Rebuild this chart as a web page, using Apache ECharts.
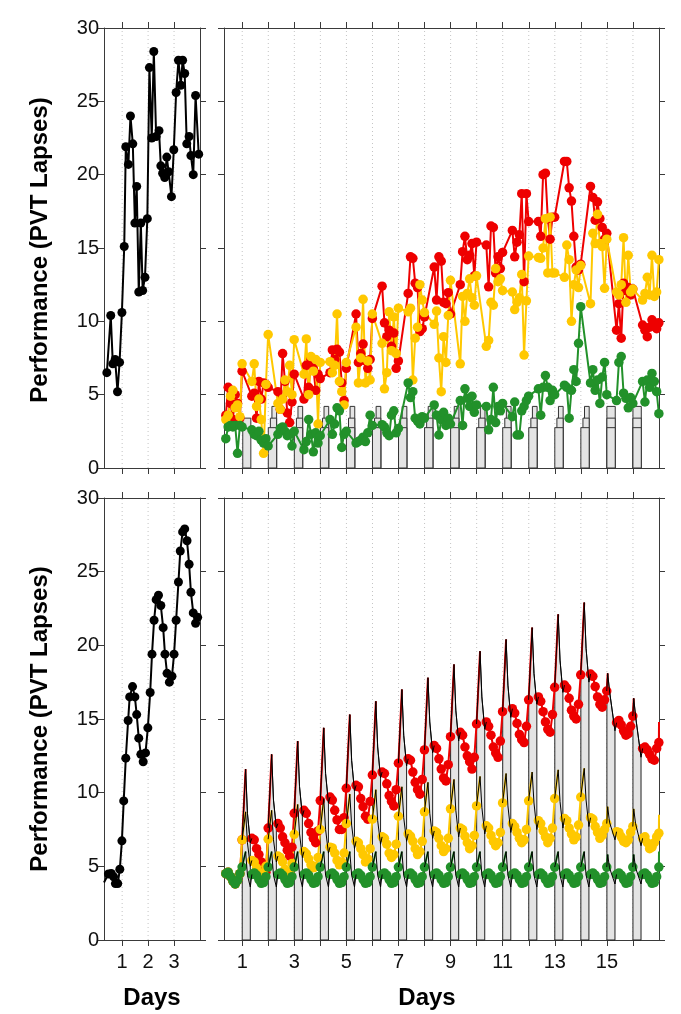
<!DOCTYPE html>
<html><head><meta charset="utf-8">
<script src="https://cdn.jsdelivr.net/npm/echarts@6/dist/echarts.min.js"></script>
<style>html,body{margin:0;padding:0;background:#fff}#c{width:681px;height:1014px}</style>
</head><body><div id="c"></div>
<script>
// ---------- DATA ----------
const yTicks = [0, 5, 10, 15, 20, 25, 30];
const leftDayTicks = [1, 2, 3];
const rightDayTicks = [1,2,3,4,5,6,7,8,9,10,11,12,13,14,15,16];
const rightDayLabels = [1,3,5,7,9,11,13,15];

// top-left (black)
const tlDays = [0.41,0.56,0.64,0.73,0.82,0.90,0.99,1.08,1.14,1.24,1.32,1.41,1.49,1.56,1.64,1.72,1.79,1.88,1.97,2.05,2.14,2.22,2.31,2.42,2.49,2.56,2.64,2.72,2.79,2.90,2.99,3.08,3.17,3.26,3.33,3.41,3.49,3.58,3.65,3.74,3.83,3.95];
const tlLapses = [6.5,10.4,7.1,7.4,5.2,7.2,10.6,15.1,21.9,20.7,24.0,22.1,16.7,19.2,12.0,16.7,12.1,13.0,17.0,27.3,22.5,28.4,22.6,23.0,20.6,20.1,19.8,21.2,20.2,18.5,21.7,25.6,27.8,26.1,27.8,26.9,22.1,22.6,21.3,20.0,25.4,21.4];

// bottom-left (black)
const blLead = [0.3, 3.9];
const blDays = [0.47,0.58,0.67,0.74,0.83,0.91,0.99,1.06,1.14,1.23,1.29,1.40,1.49,1.56,1.64,1.72,1.81,1.90,1.99,2.08,2.15,2.23,2.31,2.40,2.49,2.58,2.65,2.73,2.82,2.92,3.00,3.08,3.17,3.24,3.33,3.41,3.50,3.58,3.65,3.74,3.83,3.91];
const blLapses = [4.48,4.52,4.29,3.83,3.83,4.8,6.73,9.44,12.34,14.9,16.5,17.2,16.5,15.3,13.7,12.6,12.1,12.7,14.4,16.8,19.4,21.7,23.1,23.4,22.7,21.2,19.4,18.1,17.5,17.9,19.4,21.7,24.3,26.4,27.7,27.9,27.1,25.5,23.6,22.2,21.5,21.9];

// time of day (fraction) of the 8 measurements in each wake period
const wakeOffsets = [0.37,0.46,0.55,0.64,0.73,0.82,0.91,0.995];

// top-right measured values, one row per wake period (day 0..16)
const trRed = [
 [3.6,5.5,4.4,3.3,5.0,4.4,3.4,6.6],
 [4.9,5.1,3.4,5.9,4.7,5.8,5.7,5.5],
 [5.2,4.0,7.8,5.9,3.75,3.1,4.5,6.4],
 [4.7,7.0,5.5,7.4,6.8,5.3,6.4,6.1],
 [6.5,8.05,7.4,8.1,7.9,5.8,4.6,6.8],
 [10.5,7.2,7.8,8.45,7.3,6.8,7.4,10.2],
 [12.4,9.9,8.95,9.4,8.3,9.2,6.8,7.3],
 [11.9,14.4,14.3,12.6,12.3,9.3,9.5,10.3],
 [13.7,11.45,14.4,14.1,11.3,11.2,11.95,10.5],
 [12.5,14.75,15.8,14.2,14.5,15.3,13.1,15.4],
 [15.2,12.35,16.5,16.4,13.3,14.4,13.6,14.7],
 [16.2,14.4,15.4,15.9,18.7,12.7,18.7,16.8],
 [16.8,15.8,20.0,20.1,17.0,15.6,17.1,17.1],
 [20.9,20.9,19.1,18.2,15.8,13.7,13.5,13.9],
 [19.2,18.45,16.9,18.15,17.0,16.4,15.6,16.0],
 [9.4,11.2,8.85,12.6,12.1,12.3,11.8,12.2],
 [9.75,9.4,8.95,9.6,10.1,9.9,9.5,9.9]
];
const trYellow = [
 [3.3,3.6,4.9,5.3,4.1,4.3,3.5,7.1],
 [5.9,7.1,4.2,4.7,3.3,1.0,5.7,9.1],
 [4.4,4.0,4.7,6.0,5.2,7.0,5.0,8.75],
 [6.4,8.8,5.0,7.6,6.6,7.4,3.0,7.2],
 [7.25,6.5,7.0,10.5,5.9,5.2,4.3,7.2],
 [9.6,5.8,7.5,11.5,5.8,7.3,6.0,10.5],
 [8.5,5.4,6.5,10.65,8.0,10.3,7.8,10.9],
 [10.65,10.9,6.0,8.85,9.6,12.5,11.45,10.6],
 [9.8,10.7,7.5,5.2,8.95,7.2,10.4,12.8],
 [7.1,11.7,10.0,11.9,12.9,11.6,11.1,13.1],
 [8.3,8.7,11.3,11.1,13.6,12.7,12.9,12.1],
 [12.0,10.8,11.3,11.6,13.2,7.7,11.4,14.45],
 [14.35,14.3,15.0,17.0,13.3,17.1,13.3,13.3],
 [13.0,15.2,14.2,10.0,12.5,13.5,12.3,13.8],
 [11.2,16.0,15.3,17.3,15.3,15.1,12.25,15.6],
 [12.0,11.8,12.5,15.7,11.3,14.5,12.0,12.2],
 [11.45,11.9,13.0,11.8,14.5,11.7,12.0,14.2]
];
const trGreen = [
 [2.0,2.8,2.9,2.8,2.9,1.0,2.9,2.8],
 [2.6,2.3,2.2,2.5,1.9,1.7,2.0,1.5],
 [2.3,2.7,2.8,2.5,2.2,2.3,1.5,2.5],
 [1.25,1.8,3.3,2.3,1.1,2.4,1.7,2.2],
 [3.3,2.3,3.0,4.1,3.9,1.4,2.3,2.5],
 [1.7,1.8,1.9,2.1,1.8,2.4,3.6,2.9],
 [2.95,2.8,2.4,2.2,3.6,3.9,2.4,2.7],
 [5.8,4.8,5.2,3.4,3.2,3.0,3.5,3.4],
 [4.3,3.6,2.25,3.3,3.8,2.9,3.4,3.0],
 [4.6,2.9,5.4,4.75,4.2,4.9,3.8,4.3],
 [4.2,2.6,3.3,5.5,3.1,4.2,3.9,4.4],
 [3.5,4.5,2.25,2.25,3.9,4.2,4.6,4.9],
 [5.4,3.6,5.5,6.3,5.5,4.6,5.3,5.0],
 [5.65,5.5,3.4,5.3,6.7,5.9,8.5,11.0],
 [5.8,6.7,5.3,6.0,4.4,6.2,7.2,5.0],
 [4.6,7.2,7.6,5.1,4.75,4.1,4.8,4.4],
 [5.9,4.5,6.0,5.5,6.45,5.9,5.2,3.7]
];
// top-right grey step bars: levels (tallest first) and start offsets per day
const trBandLevels = [4.2, 3.4, 2.75];
const trBandStarts = [
 [null,0.02,null],
 [0.14,0.08,0],[0.14,0.08,0],[0.14,0.08,0],[0.14,0.08,0],[0.14,0.08,0],[0.14,0.08,0],
 [0.14,0.08,0],[0.14,0.08,0],[0.14,0.08,0],[0.14,0.08,0],[0.14,0.08,0],[0.14,0.08,0],[0.14,0.08,0],
 [0,0,0],[0,0,0]
];
const trBandEnd = 0.32;

// bottom-right model-predicted values, one row per wake period (day 0..16)
const brRed = [
 [4.5,4.6,4.3,4.0,3.8,4.05,4.5,6.8],
 [6.9,6.8,6.2,5.8,5.3,4.9,4.6,7.6],
 [7.9,7.6,7.0,6.6,6.1,5.7,6.3,8.6],
 [8.8,8.6,7.9,7.3,6.9,6.6,7.4,9.46],
 [9.7,9.5,8.8,8.15,7.5,7.5,8.3,10.3],
 [10.5,10.4,9.6,9.05,8.4,8.2,9.4,11.2],
 [11.4,11.3,10.6,9.8,9.4,9.1,10.2,12.0],
 [12.3,12.2,11.4,10.7,10.2,9.9,10.9,12.9],
 [13.2,13.0,12.3,11.6,11.0,10.8,11.9,13.8],
 [14.1,13.9,13.1,12.5,12.1,11.6,12.4,14.66],
 [14.8,14.5,13.9,13.1,12.7,12.4,13.5,15.5],
 [15.7,15.4,14.7,13.95,13.6,13.4,14.5,16.3],
 [16.5,16.2,15.5,14.8,14.3,14.1,15.3,17.15],
 [17.3,17.1,16.4,15.6,15.2,15.0,16.0,18.0],
 [18.05,17.9,17.2,16.5,16.0,15.8,16.3,16.9],
 [14.75,14.9,14.6,14.2,13.9,14.0,14.5,15.2],
 [13.0,13.1,12.9,12.6,12.3,12.2,13.0,13.4]
];
const brYellow = [
 [4.5,4.6,4.3,4.0,3.8,4.05,4.5,6.8],
 [5.4,5.3,4.9,4.6,4.4,4.5,5.0,6.84],
 [5.7,5.6,5.3,4.8,4.5,4.6,5.2,7.17],
 [6.0,5.85,5.5,5.1,4.9,5.0,5.6,7.5],
 [6.3,6.25,5.9,5.4,5.1,5.3,5.9,7.9],
 [6.7,6.6,6.2,5.8,5.3,5.5,6.2,8.2],
 [7.0,6.9,6.5,5.9,5.6,5.8,6.5,8.4],
 [7.2,7.05,6.7,6.2,5.8,6.0,6.7,8.7],
 [7.4,7.3,6.9,6.4,6.0,6.2,6.9,8.9],
 [7.6,7.5,7.05,6.6,6.2,6.4,7.1,9.1],
 [7.75,7.6,7.1,6.7,6.4,6.6,7.3,9.3],
 [7.9,7.7,7.3,6.9,6.6,6.8,7.5,9.45],
 [8.1,7.9,7.4,7.0,6.6,6.9,7.6,9.6],
 [8.25,8.1,7.6,7.2,6.8,7.0,7.8,9.7],
 [8.3,8.2,7.7,7.3,6.9,7.1,7.5,7.9],
 [7.35,7.3,7.0,6.7,6.6,6.8,7.3,7.7],
 [6.9,7.0,6.6,6.2,6.3,6.6,7.0,7.25]
];
const brGreen = [
 [4.5,4.6,4.3,4.0,3.8,4.05,4.5,4.95],
 [4.45,4.55,4.4,4.1,3.85,3.9,4.3,4.95],
 [4.45,4.55,4.4,4.1,3.85,3.9,4.3,4.95],
 [4.45,4.55,4.4,4.1,3.85,3.9,4.3,4.95],
 [4.45,4.55,4.4,4.1,3.85,3.9,4.3,4.95],
 [4.45,4.55,4.4,4.1,3.85,3.9,4.3,4.95],
 [4.45,4.55,4.4,4.1,3.85,3.9,4.3,4.95],
 [4.45,4.55,4.4,4.1,3.85,3.9,4.3,4.95],
 [4.45,4.55,4.4,4.1,3.85,3.9,4.3,4.95],
 [4.45,4.55,4.4,4.1,3.85,3.9,4.3,4.95],
 [4.45,4.55,4.4,4.1,3.85,3.9,4.3,4.95],
 [4.45,4.55,4.4,4.1,3.85,3.9,4.3,4.95],
 [4.45,4.55,4.4,4.1,3.85,3.9,4.3,4.95],
 [4.45,4.55,4.4,4.1,3.85,3.9,4.3,4.95],
 [4.45,4.55,4.4,4.1,3.85,3.9,4.3,4.95],
 [4.45,4.55,4.4,4.1,3.85,3.9,4.3,4.95],
 [4.45,4.55,4.4,4.1,3.85,3.9,4.3,4.95]
];
// sleep-period spikes (peak, mid, end) for days 1..16
const brRedSpikes = [[11.6,8.6,6.6],[12.6,9.5,7.6],[13.5,10.4,8.4],[14.4,11.3,9.3],[15.3,12.2,10.1],[16.2,13.1,11.0],[17.0,13.9,11.8],[17.8,14.8,12.7],[18.7,15.6,13.5],[19.6,16.5,14.3],[20.4,17.3,15.1],[21.2,18.1,16.0],[22.1,19.0,16.8],[22.9,19.8,17.5],[18.1,16.9,14.2],[16.4,15.2,12.4]];
const brYellowSpikes = [[8.7,6.6,5.0],[8.8,6.8,5.3],[9.2,7.2,5.6],[9.6,7.5,5.9],[9.9,7.8,6.2],[10.2,8.1,6.5],[10.4,8.3,6.7],[10.7,8.6,6.9],[10.9,8.8,7.0],[11.1,9.0,7.2],[11.3,9.1,7.3],[11.4,9.3,7.5],[11.55,9.4,7.6],[11.65,9.5,7.7],[9.05,8.0,6.8],[8.9,7.9,6.4]];
const brGreenSpikes = [[6.0,4.4,3.6],[6.0,4.4,3.6],[6.0,4.4,3.6],[6.0,4.4,3.6],[6.0,4.4,3.6],[6.0,4.4,3.6],[6.0,4.4,3.6],[6.0,4.4,3.6],[6.0,4.4,3.6],[6.0,4.4,3.6],[6.0,4.4,3.6],[6.0,4.4,3.6],[6.0,4.4,3.6],[6.0,4.4,3.6],[5.8,4.9,3.8],[5.8,4.9,3.8]];
const spikeOffsetsEarly = [0.13, 0.2, 0.31];
const spikeOffsetsLate = [0.03, 0.1, 0.31];
const brEdge = {red: 14.8, yellow: 8.5, green: 6.0};

// ---------- STYLE ----------
const FF = "'Liberation Sans',Arial,sans-serif";
const FB = "'Liberation Sans',Arial,sans-serif";
const RED = '#ee0000', YEL = '#ffc800', GRN = '#22912a', BAND = '#e4e4e4', AX = '#3a3a3a';

const grids = [
  {left:104, top:28, width:96, height:440},
  {left:224, top:28, width:435, height:440},
  {left:104, top:498, width:96, height:442},
  {left:224, top:498, width:435, height:442}
];

function xAx(gi, pos, max, ticks, labels) {
  return {type:'value', gridIndex:gi, position:pos, min:0.3, max:max,
    axisLine:{show:true, onZero:false, lineStyle:{color:AX, width:1}},
    axisTick:{show:true, inside:false, length:6, customValues:ticks, lineStyle:{color:AX}},
    axisLabel:{show:!!labels, customValues:labels || ticks, fontFamily:FF, fontSize:20, color:'#111', margin:12},
    splitLine:{show:false}};
}
function yAx(gi, pos, labels) {
  return {type:'value', gridIndex:gi, position:pos, min:0, max:30, interval:5,
    axisLine:{show:true, onZero:false, lineStyle:{color:AX, width:1}},
    axisTick:{show:true, inside:false, length:6, lineStyle:{color:AX}},
    axisLabel:{show:labels, fontFamily:FF, fontSize:20, color:'#111', margin:5},
    splitLine:{show:false}};
}

const xAxis = [
  xAx(0,'bottom',4,leftDayTicks,null), xAx(0,'top',4,leftDayTicks,null),
  xAx(1,'bottom',17,rightDayTicks,null), xAx(1,'top',17,rightDayTicks,null),
  xAx(2,'bottom',4,leftDayTicks,leftDayTicks), xAx(2,'top',4,leftDayTicks,null),
  xAx(3,'bottom',17,rightDayTicks,rightDayLabels), xAx(3,'top',17,rightDayTicks,null)
];
const yAxis = [
  yAx(0,'left',true), yAx(0,'right',false),
  yAx(1,'left',false), yAx(1,'right',false),
  yAx(2,'left',true), yAx(2,'right',false),
  yAx(3,'left',false), yAx(3,'right',false)
];

function gridLines(g, days) {
  return {type:'custom', xAxisIndex:2*g, yAxisIndex:2*g, z:1, silent:true,
    data: days.map(d => [d, 0]), encode:{x:0, y:1},
    renderItem: function(params, api) {
      const a = api.coord([api.value(0), 0]), b = api.coord([api.value(0), 30]);
      return {type:'line', shape:{x1:a[0], y1:a[1], x2:b[0], y2:b[1]},
        style:{stroke:'#c4c4c4', lineWidth:1, lineDash:[1,3]}};
    }};
}

// top-right band data
const trBandData = [];
trBandLevels.forEach((h, L) => {
  trBandStarts.forEach((st, k) => {
    if (st[L] !== null) trBandData.push([k + 1 + st[L], k + 1 + trBandEnd + (k === 0 ? 0.01 : 0), h]);
  });
});

function periodPoints(rows) {
  const out = [];
  rows.forEach((vals, p) => vals.forEach((v, i) => out.push([p + wakeOffsets[i], v])));
  return out;
}
function offsFor(day) { return day >= 15 ? spikeOffsetsLate : spikeOffsetsEarly; }
function wakeData(rows, spikes, edge) {
  const out = [];
  rows.forEach((vals, p) => {
    vals.forEach((v, i) => out.push([p + wakeOffsets[i], v]));
    if (p < spikes.length) {
      const day = p + 1, o = offsFor(day);
      out.push({value:[day + o[0], spikes[p][0]], symbol:'none'});
      out.push([day + o[0] + 0.01, null]);
    }
  });
  out.push({value:[17, edge], symbol:'none'});
  return out;
}
function modelData(rows, spikes) {
  const out = [];
  spikes.forEach((s, k) => {
    const day = k + 1, o = offsFor(day);
    out.push([k + wakeOffsets[7], rows[k][7]]);
    out.push([day + o[0], s[0]]);
    out.push([day + o[1], s[1]]);
    out.push([day + o[2], s[2]]);
    out.push([day + wakeOffsets[0], rows[day][0]]);
    out.push([day + wakeOffsets[0] + 0.005, null]);
  });
  return out;
}

function dotLine(g, data, color, z, size) {
  return {type:'line', xAxisIndex:2*g, yAxisIndex:2*g, data:data, z:z,
    symbol:'circle', symbolSize:size || 9.5, showSymbol:true, connectNulls:false,
    lineStyle:{color:color, width:2}, itemStyle:{color:color}, clip:true};
}
function blackLine(g, data) {
  return {type:'line', xAxisIndex:2*g, yAxisIndex:2*g, data:data, z:5,
    symbol:'none', connectNulls:false, lineStyle:{color:'#000', width:1}, clip:true};
}

const series = [
  gridLines(0, leftDayTicks), gridLines(1, rightDayTicks), gridLines(2, leftDayTicks), gridLines(3, rightDayTicks),
  {type:'custom', xAxisIndex:2, yAxisIndex:2, z:2, silent:true, data:trBandData, encode:{x:[0,1], y:2},
    renderItem: function(params, api) {
      const a = api.coord([api.value(0), api.value(2)]), b = api.coord([api.value(1), 0]);
      return {type:'rect', shape:{x:a[0], y:a[1], width:b[0]-a[0], height:b[1]-a[1]},
        style:{fill:BAND, stroke:'#333', lineWidth:1}};
    }},
  {type:'custom', xAxisIndex:6, yAxisIndex:6, z:2, silent:true,
    data: rightDayTicks.map(d => [d, 0]), encode:{x:0, y:1},
    renderItem: function(params, api) {
      const k = params.dataIndex, day = k + 1, o = offsFor(day), s = brRedSpikes[k];
      const pts = [[day,0],[day,brRed[k][7]],[day+o[0],s[0]],[day+o[1],s[1]],[day+o[2],s[2]],[day+o[2],0]].map(p => api.coord(p));
      return {type:'polygon', shape:{points:pts}, style:{fill:BAND, stroke:'#222', lineWidth:1}};
    }},
  dotLine(0, tlDays.map((d, i) => [d, tlLapses[i]]), '#000', 3, 9),
  dotLine(2, [{value:blLead, symbol:'none'}].concat(blDays.map((d, i) => [d, blLapses[i]])), '#000', 3, 9),
  dotLine(1, periodPoints(trRed), RED, 3),
  dotLine(1, periodPoints(trYellow), YEL, 3),
  dotLine(1, periodPoints(trGreen), GRN, 3),
  dotLine(3, wakeData(brRed, brRedSpikes, brEdge.red), RED, 3),
  dotLine(3, wakeData(brYellow, brYellowSpikes, brEdge.yellow), YEL, 3),
  dotLine(3, wakeData(brGreen, brGreenSpikes, brEdge.green), GRN, 3),
  blackLine(3, modelData(brRed, brRedSpikes)),
  blackLine(3, modelData(brYellow, brYellowSpikes)),
  blackLine(3, modelData(brGreen, brGreenSpikes))
];

const titleFont = {fontFamily:FB, fontWeight:'bold', fontSize:24, fill:'#000', align:'center', verticalAlign:'middle'};
const graphic = [
  {type:'text', x:40, y:250, rotation:Math.PI/2, style:Object.assign({text:'Performance (PVT Lapses)'}, titleFont)},
  {type:'text', x:40, y:719, rotation:Math.PI/2, style:Object.assign({text:'Performance (PVT Lapses)'}, titleFont)},
  {type:'text', x:152, y:998, style:Object.assign({text:'Days'}, titleFont)},
  {type:'text', x:427, y:998, style:Object.assign({text:'Days'}, titleFont)}
];

const chart = echarts.init(document.getElementById('c'), null, {renderer:'canvas'});
chart.setOption({animation:false, backgroundColor:'#fff', grid:grids, xAxis:xAxis, yAxis:yAxis, series:series, graphic:graphic});
</script></body></html>
